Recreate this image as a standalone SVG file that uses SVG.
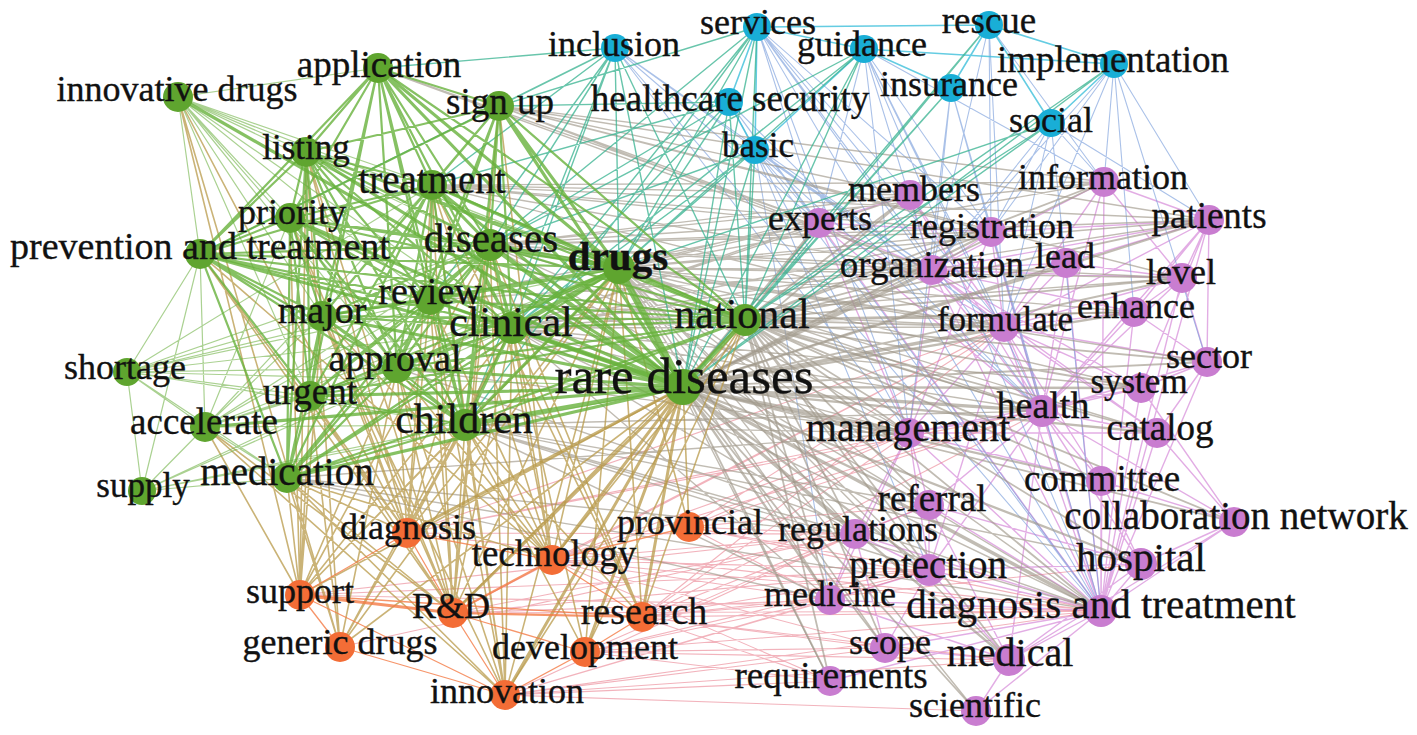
<svg xmlns="http://www.w3.org/2000/svg" width="1417" height="735" viewBox="0 0 1417 735">
<style>
.e{fill:none;stroke-linecap:round}
.gg{stroke:#68b23c;stroke-opacity:.8}
.ggl{stroke:#72b348;stroke-opacity:.6}
.go{stroke:#b8994a;stroke-opacity:.75}
.gp{stroke:#a0988a;stroke-opacity:.65}
.gb{stroke:#36b28f;stroke-opacity:.75}
.bb{stroke:#3dbfdb;stroke-opacity:.8}
.bp{stroke:#7c9fdc;stroke-opacity:.65}
.pp{stroke:#d68ad9;stroke-opacity:.7}
.op{stroke:#e9818f;stroke-opacity:.6}
.oo{stroke:#f47a45;stroke-opacity:.8}
text{font-family:"Liberation Serif","Times New Roman",serif;font-size:36px;fill:#111;stroke:#111;stroke-width:.35;text-anchor:middle}
.ng circle{fill:#5fa52f}
.nb circle{fill:#19aed6}
.np circle{fill:#c97dd0}
.no circle{fill:#f36d36}
</style>
<rect width="1417" height="735" fill="#fff"/>
<g id="edges">
<path class="e pp" stroke-width="1.4" d="M1101 611L1141 564M1101 611L1234 522M1101 611L1009 660M1101 611L1101 481M1101 611L1042 411M1101 611L1004 327M1101 611L932 270M1101 611L909 433M1101 611L855 534M1101 611L929 570M1101 611L830 600M1101 611L885 648M1101 611L929 505M1101 611L1157 433M1101 611L1141 388M1101 611L1207 362M1101 611L1134 312M1101 611L1182 278M1101 611L1209 220M1101 611L1066 263M1101 611L991 232M1101 611L819 223M1101 611L830 681M1101 611L976 711M1101 611L1104 182M1042 411L1004 327M1042 411L932 270M1042 411L909 433M1042 411L1141 388M1042 411L1157 433M1042 411L1134 312M1042 411L1182 278M1042 411L1207 362M1042 411L1209 220M1042 411L1066 263M1042 411L991 232M1042 411L1104 182M1042 411L1101 481M1042 411L929 505M1042 411L929 570M1042 411L1141 564M1042 411L1234 522M1042 411L1009 660M1042 411L819 223M1042 411L910 195M1004 327L932 270M1004 327L991 232M1004 327L1066 263M1004 327L1134 312M1004 327L1182 278M1004 327L1207 362M1004 327L1209 220M1004 327L1104 182M1004 327L1141 388M1004 327L1157 433M1004 327L909 433M1004 327L819 223M1004 327L910 195M1004 327L1101 481M1004 327L929 570M932 270L819 223M932 270L910 195M932 270L991 232M932 270L1066 263M932 270L1134 312M932 270L1182 278M932 270L1104 182M932 270L1209 220M932 270L909 433M932 270L1141 388M932 270L1157 433M909 433L819 223M909 433L991 232M909 433L1141 388M909 433L1157 433M909 433L1101 481M909 433L855 534M909 433L929 570M909 433L830 600M909 433L929 505M1209 220L1104 182M1209 220L1182 278M1209 220L1134 312M1209 220L1207 362M1209 220L1066 263M1209 220L1141 388M1209 220L991 232M1182 278L1104 182M1182 278L1134 312M1182 278L1207 362M1182 278L1066 263M1207 362L1134 312M1207 362L1141 388M1207 362L1157 433M1141 564L1234 522M1141 564L1101 481M1141 564L1009 660M1141 564L929 505M1141 564L929 570M1234 522L1101 481M1234 522L1009 660M1234 522L1157 433M1234 522L1141 388M1009 660L929 570M1009 660L885 648M1009 660L976 711M1009 660L830 600M1009 660L929 505M855 534L929 570M855 534L830 600M855 534L929 505M855 534L885 648M929 570L929 505M929 570L830 600M929 570L885 648M819 223L910 195M819 223L991 232"/>
<path class="e op" stroke-width="1.1" d="M642 617L855 534M642 617L929 570M642 617L830 600M642 617L885 648M642 617L830 681M642 617L1101 611M642 617L1009 660M642 617L1004 327M642 617L1042 411M642 617L909 433M642 617L929 505M642 617L1141 564M552 560L1004 327M552 560L1042 411M552 560L909 433M552 560L855 534M552 560L929 570M552 560L1101 611M552 560L830 600M552 560L885 648M552 560L830 681M585 652L855 534M585 652L929 570M585 652L830 600M585 652L885 648M585 652L830 681M585 652L1101 611M585 652L1009 660M505 695L830 681M505 695L885 648M505 695L830 600M505 695L855 534M505 695L929 570M505 695L1101 611M505 695L1009 660M505 695L976 711M689 527L855 534M689 527L929 570M689 527L929 505M689 527L1101 611M689 527L909 433M689 527L1042 411M689 527L1004 327M689 527L830 600M453 613L855 534M453 613L929 570M453 613L830 600M453 613L1101 611M453 613L1004 327M300 595L855 534M300 595L929 570M300 595L1101 611M407 533L909 433M407 533L855 534M407 533L1101 611M407 533L1004 327M407 533L1042 411M340 647L855 534"/>
<path class="e bp" stroke-width="1.1" d="M757 27L819 223M757 27L932 270M757 27L909 433M757 27L1042 411M757 27L1101 611M757 27L1004 327M757 27L991 232M757 27L910 195M755 150L909 433M755 150L1042 411M755 150L1101 611M755 150L1004 327M755 150L819 223M755 150L932 270M755 150L830 600M755 150L929 570M864 49L932 270M864 49L1004 327M864 49L1042 411M864 49L1101 611M864 49L991 232M864 49L1104 182M864 49L819 223M864 49L909 433M729 102L819 223M729 102L909 433M729 102L1101 611M729 102L1042 411M615 48L932 270M615 48L1004 327M615 48L909 433M615 48L1101 611M615 48L819 223M1051 123L1104 182M1051 123L991 232M1051 123L932 270M1051 123L1004 327M1051 123L1101 611M1051 123L1209 220M989 25L991 232M989 25L932 270M989 25L1004 327M989 25L1104 182M1114 64L1104 182M1114 64L1209 220M1114 64L1004 327M1114 64L991 232M1114 64L932 270M1114 64L1134 312M1114 64L1207 362M951 88L1101 611M951 88L1042 411M951 88L991 232M951 88L932 270M951 88L909 433"/>
<path class="e bb" stroke-width="1.6" d="M757 27L989 25M757 27L864 49M864 49L1114 64M989 25L1114 64M989 25L951 88M989 25L1051 123M1051 123L1114 64M864 49L951 88M757 27L755 150M757 27L729 102M864 49L755 150M729 102L755 150"/>
<path class="e gp" stroke-width="3.4" d="M683 387L1101 611M683 387L1004 327M683 387L932 270M683 387L909 433M683 387L1042 411"/>
<path class="e gp" stroke-width="2.3" d="M683 387L819 223M683 387L991 232M683 387L929 570M683 387L855 534M683 387L830 600M683 387L1141 564M683 387L929 505M683 387L1009 660M683 387L1101 481M683 387L1157 433M683 387L1141 388M683 387L1134 312M683 387L1209 220"/>
<path class="e gp" stroke-width="1.8" d="M683 387L885 648M683 387L830 681M683 387L976 711M683 387L1207 362M683 387L1182 278M683 387L1066 263M683 387L1104 182M683 387L910 195M683 387L1234 522M745 320L819 223M745 320L910 195M745 320L991 232M745 320L1104 182M745 320L1209 220M745 320L932 270M745 320L1066 263M745 320L1182 278M745 320L1134 312M745 320L1004 327M745 320L1207 362M745 320L1141 388M745 320L1042 411M745 320L909 433M745 320L1157 433M745 320L1101 481M745 320L929 505M745 320L1234 522M745 320L855 534M745 320L1141 564M745 320L929 570M745 320L830 600M745 320L1101 611M745 320L1009 660M745 320L885 648M745 320L830 681"/>
<path class="e gp" stroke-width="1.4" d="M619 268L819 223M619 268L932 270M619 268L1004 327M619 268L991 232M619 268L909 433M619 268L1042 411M619 268L1101 611M619 268L910 195M619 268L1104 182M619 268L1209 220M619 268L1182 278M619 268L1134 312M619 268L1207 362M619 268L1141 388M619 268L1157 433M619 268L855 534M619 268L929 570M619 268L830 600M619 268L885 648M619 268L830 681M619 268L976 711M619 268L1009 660M619 268L929 505M512 328L819 223M512 328L932 270M512 328L1004 327M512 328L1042 411M512 328L909 433M512 328L1101 611M512 328L991 232M512 328L910 195M512 328L1209 220M512 328L1182 278M512 328L1134 312M512 328L1141 388M512 328L855 534M512 328L830 600M490 245L819 223M490 245L932 270M490 245L991 232M490 245L910 195M490 245L1004 327M490 245L909 433M490 245L1042 411M490 245L1101 611M490 245L1209 220M490 245L1104 182M490 245L1182 278M499 106L819 223M499 106L910 195M499 106L991 232M499 106L932 270M499 106L1104 182M499 106L1209 220M499 106L1182 278M432 185L819 223M432 185L932 270M432 185L991 232M432 185L910 195M432 185L1209 220M432 185L1104 182M432 185L1004 327M465 425L909 433M465 425L1042 411M465 425L1101 611M465 425L830 600M465 425L929 570M465 425L1141 564M465 425L855 534M465 425L929 505M430 300L819 223M430 300L932 270M430 300L1004 327M378 68L819 223M378 68L932 270M287 478L909 433M287 478L830 600M287 478L1101 611M287 478L855 534M397 368L909 433M397 368L1101 611"/>
<path class="e gb" stroke-width="1.4" d="M615 48L378 68M615 48L499 106M615 48L432 185M615 48L490 245M615 48L619 268M615 48L512 328M615 48L683 387M615 48L745 320M615 48L465 425M615 48L430 300M615 48L200 254M757 27L619 268M757 27L683 387M757 27L745 320M757 27L512 328M757 27L490 245M757 27L465 425M757 27L499 106M864 49L683 387M864 49L745 320M864 49L619 268M864 49L490 245M864 49L512 328M755 150L683 387M755 150L745 320M755 150L619 268M755 150L512 328M755 150L490 245M729 102L683 387M729 102L745 320M729 102L619 268M729 102L490 245M729 102L512 328M729 102L499 106M729 102L432 185M1114 64L683 387M1114 64L745 320M1051 123L683 387M1051 123L745 320M1051 123L619 268M951 88L683 387M951 88L745 320M989 25L683 387M989 25L745 320"/>
<path class="e go" stroke-width="1.6" d="M683 387L300 595M683 387L340 647M683 387L689 527M619 268L407 533M619 268L552 560M619 268L453 613M619 268L642 617M619 268L505 695M619 268L585 652M619 268L300 595M619 268L340 647M619 268L689 527M512 328L407 533M512 328L552 560M512 328L453 613M512 328L642 617M512 328L505 695M512 328L585 652M512 328L300 595M512 328L340 647M465 425L407 533M465 425L552 560M465 425L453 613M465 425L642 617M465 425L505 695M465 425L585 652M465 425L300 595M465 425L340 647M490 245L407 533M490 245L552 560M490 245L453 613M490 245L642 617M490 245L505 695M490 245L300 595M287 478L407 533M287 478L300 595M287 478L340 647M287 478L453 613M287 478L552 560M287 478L505 695M397 368L407 533M397 368L453 613M397 368L552 560M397 368L300 595M397 368L340 647M397 368L505 695M310 396L407 533M310 396L300 595M310 396L340 647M310 396L453 613M322 316L407 533M322 316L453 613M322 316L300 595M322 316L505 695M322 316L552 560M430 300L407 533M430 300L453 613M430 300L552 560M430 300L505 695M432 185L407 533M432 185L552 560M432 185L453 613M432 185L642 617M432 185L505 695M306 152L407 533M306 152L300 595M306 152L340 647M306 152L453 613M290 218L407 533M290 218L453 613M290 218L300 595M200 254L407 533M200 254L453 613M200 254L552 560M178 97L300 595M178 97L340 647M178 97L407 533M745 320L552 560M745 320L642 617M745 320L505 695M745 320L453 613M745 320L585 652M499 106L552 560M499 106L453 613M205 427L300 595M205 427L453 613M205 427L505 695"/>
<path class="e go" stroke-width="3" d="M683 387L407 533M683 387L552 560M683 387L453 613M683 387L642 617M683 387L505 695M683 387L585 652"/>
<path class="e oo" stroke-width="1.3" d="M300 595L642 617M300 595L340 647M340 647L505 695M453 613L585 652M453 613L505 695M552 560L642 617M585 652L642 617M505 695L585 652M407 533L552 560M407 533L453 613M552 560L689 527M300 595L505 695M407 533L300 595"/>
<path class="e oo" stroke-width="2.2" d="M453 613L642 617M453 613L552 560"/>
<path class="e oo" stroke-width="3.2" d="M300 595L453 613"/>
<path class="e ggl" stroke-width="1.2" d="M178 97L378 68M178 97L306 152M178 97L432 185M178 97L290 218M178 97L490 245M178 97L619 268M178 97L430 300M178 97L322 316M178 97L512 328M178 97L397 368M178 97L310 396M178 97L465 425M178 97L200 254M432 185L205 427M432 185L127 372M290 218L205 427M200 254L205 427M200 254L127 372M200 254L142 491M490 245L205 427M490 245L127 372M619 268L205 427M619 268L127 372M619 268L142 491M430 300L205 427M430 300L127 372M322 316L205 427M322 316L127 372M512 328L205 427M512 328L127 372M512 328L142 491M397 368L205 427M397 368L127 372M683 387L127 372M683 387L142 491M310 396L205 427M310 396L127 372M465 425L205 427M465 425L142 491M465 425L127 372M205 427L287 478M205 427L127 372M205 427L142 491M287 478L142 491M287 478L127 372M127 372L142 491"/>
<path class="e gg" stroke-width="2.2" d="M378 68L306 152M378 68L432 185M378 68L499 106M378 68L290 218M378 68L490 245M378 68L430 300M378 68L322 316M378 68L512 328M378 68L397 368M378 68L465 425M378 68L310 396M378 68L200 254M378 68L745 320M499 106L306 152M499 106L432 185M499 106L490 245M499 106L430 300M499 106L512 328M499 106L322 316M499 106L397 368M499 106L745 320M499 106L465 425M499 106L200 254M306 152L432 185M306 152L290 218M306 152L490 245M306 152L619 268M306 152L430 300M306 152L322 316M306 152L512 328M306 152L397 368M306 152L310 396M306 152L465 425M306 152L287 478M306 152L200 254M306 152L745 320M432 185L290 218M432 185L200 254M432 185L430 300M432 185L322 316M432 185L512 328M432 185L397 368M432 185L310 396M432 185L465 425M432 185L287 478M432 185L745 320M290 218L200 254M290 218L490 245M290 218L619 268M290 218L430 300M290 218L322 316M290 218L512 328M290 218L397 368M290 218L310 396M290 218L465 425M290 218L287 478M290 218L745 320M200 254L490 245M200 254L619 268M200 254L430 300M200 254L322 316M200 254L512 328M200 254L397 368M200 254L310 396M200 254L465 425M200 254L287 478M200 254L745 320M490 245L430 300M490 245L322 316M490 245L397 368M490 245L310 396M490 245L465 425M490 245L287 478M490 245L745 320M619 268L310 396M619 268L287 478M430 300L322 316M430 300L512 328M430 300L397 368M430 300L310 396M430 300L465 425M430 300L287 478M430 300L745 320M322 316L512 328M322 316L397 368M322 316L310 396M322 316L465 425M322 316L287 478M322 316L745 320M512 328L397 368M512 328L310 396M512 328L287 478M512 328L745 320M745 320L397 368M745 320L465 425M745 320L310 396M745 320L287 478M397 368L310 396M397 368L465 425M397 368L287 478M310 396L465 425M310 396L287 478M465 425L287 478"/>
<path class="e gg" stroke-width="3.2" d="M683 387L432 185M683 387L430 300M683 387L397 368M683 387L310 396M683 387L322 316M683 387L287 478M683 387L499 106M683 387L378 68M683 387L200 254M683 387L306 152M683 387L290 218M619 268L432 185M619 268L465 425M619 268L430 300M619 268L378 68M619 268L499 106M490 245L432 185M512 328L465 425M490 245L512 328M619 268L745 320M619 268L397 368M619 268L322 316M683 387L178 97M683 387L205 427"/>
<path class="e gg" stroke-width="4.5" d="M683 387L490 245M683 387L512 328M683 387L465 425M619 268L490 245M619 268L512 328M683 387L745 320"/>
<path class="e gg" stroke-width="6.5" d="M683 387L619 268"/>
</g>
<g id="n-innovative-drugs" class="ng"><circle cx="178" cy="97" r="15"/><text x="177" y="101">innovative drugs</text></g>
<g id="n-application" class="ng"><circle cx="378" cy="68" r="15"/><text x="379" y="77" style="font-size:37px">application</text></g>
<g id="n-sign-up" class="ng"><circle cx="499" cy="106" r="15"/><text x="500" y="114" style="font-size:37px">sign up</text></g>
<g id="n-listing" class="ng"><circle cx="306" cy="152" r="15"/><text x="306" y="159" style="font-size:35px">listing</text></g>
<g id="n-treatment" class="ng"><circle cx="432" cy="185" r="15"/><text x="432" y="193" style="font-size:39px">treatment</text></g>
<g id="n-priority" class="ng"><circle cx="290" cy="218" r="15"/><text x="292" y="224">priority</text></g>
<g id="n-prevention-and-treatment" class="ng"><circle cx="200" cy="254" r="15"/><text x="200" y="259" style="font-size:38px">prevention and treatment</text></g>
<g id="n-diseases" class="ng"><circle cx="490" cy="245" r="16"/><text x="491" y="252" style="font-size:41px">diseases</text></g>
<g id="n-drugs" class="ng"><circle cx="619" cy="268" r="16"/><text x="618" y="270" style="font-size:41px;font-weight:bold">drugs</text></g>
<g id="n-review" class="ng"><circle cx="430" cy="300" r="15"/><text x="430" y="304" style="font-size:38px">review</text></g>
<g id="n-major" class="ng"><circle cx="322" cy="316" r="15"/><text x="322" y="323" style="font-size:38px">major</text></g>
<g id="n-clinical" class="ng"><circle cx="512" cy="328" r="16"/><text x="511" y="336" style="font-size:42px">clinical</text></g>
<g id="n-national" class="ng"><circle cx="745" cy="320" r="16"/><text x="742" y="328" style="font-size:42px">national</text></g>
<g id="n-approval" class="ng"><circle cx="397" cy="368" r="15"/><text x="395" y="371" style="font-size:38px">approval</text></g>
<g id="n-rare-diseases" class="ng"><circle cx="683" cy="387" r="18"/><text x="684" y="393" style="font-size:51px">rare diseases</text></g>
<g id="n-shortage" class="ng"><circle cx="127" cy="372" r="14"/><text x="125" y="379">shortage</text></g>
<g id="n-urgent" class="ng"><circle cx="310" cy="396" r="15"/><text x="310" y="404" style="font-size:37px">urgent</text></g>
<g id="n-children" class="ng"><circle cx="465" cy="425" r="16"/><text x="464" y="433" style="font-size:42px">children</text></g>
<g id="n-accelerate" class="ng"><circle cx="205" cy="427" r="15"/><text x="204" y="434" style="font-size:37px">accelerate</text></g>
<g id="n-medication" class="ng"><circle cx="287" cy="478" r="15"/><text x="287" y="485" style="font-size:39px">medication</text></g>
<g id="n-supply" class="ng"><circle cx="142" cy="491" r="14"/><text x="143" y="497" style="font-size:35px">supply</text></g>
<g id="n-inclusion" class="nb"><circle cx="615" cy="48" r="14"/><text x="614" y="56">inclusion</text></g>
<g id="n-services" class="nb"><circle cx="757" cy="27" r="14"/><text x="758" y="34">services</text></g>
<g id="n-guidance" class="nb"><circle cx="864" cy="49" r="14"/><text x="862" y="56">guidance</text></g>
<g id="n-rescue" class="nb"><circle cx="989" cy="25" r="14"/><text x="989" y="33" style="font-size:37px">rescue</text></g>
<g id="n-implementation" class="nb"><circle cx="1114" cy="64" r="14"/><text x="1113" y="72" style="font-size:37px">implementation</text></g>
<g id="n-insurance" class="nb"><circle cx="951" cy="88" r="14"/><text x="949" y="96">insurance</text></g>
<g id="n-healthcare-security" class="nb"><circle cx="729" cy="102" r="14"/><text x="730" y="111" style="font-size:37px">healthcare security</text></g>
<g id="n-social" class="nb"><circle cx="1051" cy="123" r="14"/><text x="1051" y="132">social</text></g>
<g id="n-basic" class="nb"><circle cx="755" cy="150" r="14"/><text x="758" y="157" style="font-size:35px">basic</text></g>
<g id="n-members" class="np"><circle cx="910" cy="195" r="15"/><text x="914" y="201">members</text></g>
<g id="n-information" class="np"><circle cx="1104" cy="182" r="15"/><text x="1103" y="189">information</text></g>
<g id="n-experts" class="np"><circle cx="819" cy="223" r="15"/><text x="820" y="230">experts</text></g>
<g id="n-registration" class="np"><circle cx="991" cy="232" r="15"/><text x="992" y="238">registration</text></g>
<g id="n-patients" class="np"><circle cx="1209" cy="220" r="15"/><text x="1209" y="228" style="font-size:37px">patients</text></g>
<g id="n-organization" class="np"><circle cx="932" cy="270" r="15"/><text x="932" y="277" style="font-size:37px">organization</text></g>
<g id="n-lead" class="np"><circle cx="1066" cy="263" r="15"/><text x="1065" y="268">lead</text></g>
<g id="n-level" class="np"><circle cx="1182" cy="278" r="15"/><text x="1181" y="284">level</text></g>
<g id="n-enhance" class="np"><circle cx="1134" cy="312" r="15"/><text x="1136" y="318">enhance</text></g>
<g id="n-formulate" class="np"><circle cx="1004" cy="327" r="15"/><text x="1005" y="331" style="font-size:35px">formulate</text></g>
<g id="n-sector" class="np"><circle cx="1207" cy="362" r="15"/><text x="1209" y="368">sector</text></g>
<g id="n-system" class="np"><circle cx="1141" cy="388" r="15"/><text x="1139" y="393" style="font-size:35px">system</text></g>
<g id="n-health" class="np"><circle cx="1042" cy="411" r="16"/><text x="1043" y="418" style="font-size:38px">health</text></g>
<g id="n-management" class="np"><circle cx="909" cy="433" r="15"/><text x="908" y="441" style="font-size:40px">management</text></g>
<g id="n-catalog" class="np"><circle cx="1157" cy="433" r="15"/><text x="1160" y="440" style="font-size:37px">catalog</text></g>
<g id="n-committee" class="np"><circle cx="1101" cy="481" r="15"/><text x="1102" y="491" style="font-size:37px">committee</text></g>
<g id="n-referral" class="np"><circle cx="929" cy="505" r="15"/><text x="932" y="511" style="font-size:37px">referral</text></g>
<g id="n-collaboration-network" class="np"><circle cx="1234" cy="522" r="15"/><text x="1236" y="529" style="font-size:39px">collaboration network</text></g>
<g id="n-regulations" class="np"><circle cx="855" cy="534" r="15"/><text x="858" y="541">regulations</text></g>
<g id="n-hospital" class="np"><circle cx="1141" cy="564" r="16"/><text x="1141" y="571" style="font-size:41px">hospital</text></g>
<g id="n-protection" class="np"><circle cx="929" cy="570" r="16"/><text x="928" y="578" style="font-size:39px">protection</text></g>
<g id="n-medicine" class="np"><circle cx="830" cy="600" r="15"/><text x="830" y="606">medicine</text></g>
<g id="n-diagnosis-and-treatment" class="np"><circle cx="1101" cy="611" r="16"/><text x="1101" y="618" style="font-size:41px">diagnosis and treatment</text></g>
<g id="n-scope" class="np"><circle cx="885" cy="648" r="15"/><text x="890" y="654">scope</text></g>
<g id="n-medical" class="np"><circle cx="1009" cy="660" r="16"/><text x="1010" y="666" style="font-size:40px">medical</text></g>
<g id="n-requirements" class="np"><circle cx="830" cy="681" r="15"/><text x="831" y="688" style="font-size:37px">requirements</text></g>
<g id="n-scientific" class="np"><circle cx="976" cy="711" r="15"/><text x="975" y="717">scientific</text></g>
<g id="n-diagnosis" class="no"><circle cx="407" cy="533" r="15"/><text x="408" y="539">diagnosis</text></g>
<g id="n-provincial" class="no"><circle cx="689" cy="527" r="15"/><text x="690" y="534">provincial</text></g>
<g id="n-technology" class="no"><circle cx="552" cy="560" r="15"/><text x="554" y="566" style="font-size:37px">technology</text></g>
<g id="n-support" class="no"><circle cx="300" cy="595" r="15"/><text x="300" y="603">support</text></g>
<g id="n-r-and-d" class="no"><circle cx="453" cy="613" r="15"/><text x="451" y="618">R&amp;D</text></g>
<g id="n-research" class="no"><circle cx="642" cy="617" r="15"/><text x="644" y="624" style="font-size:38px">research</text></g>
<g id="n-generic-drugs" class="no"><circle cx="340" cy="647" r="15"/><text x="340" y="654">generic drugs</text></g>
<g id="n-development" class="no"><circle cx="585" cy="652" r="15"/><text x="585" y="659">development</text></g>
<g id="n-innovation" class="no"><circle cx="505" cy="695" r="15"/><text x="507" y="703">innovation</text></g>
</svg>
